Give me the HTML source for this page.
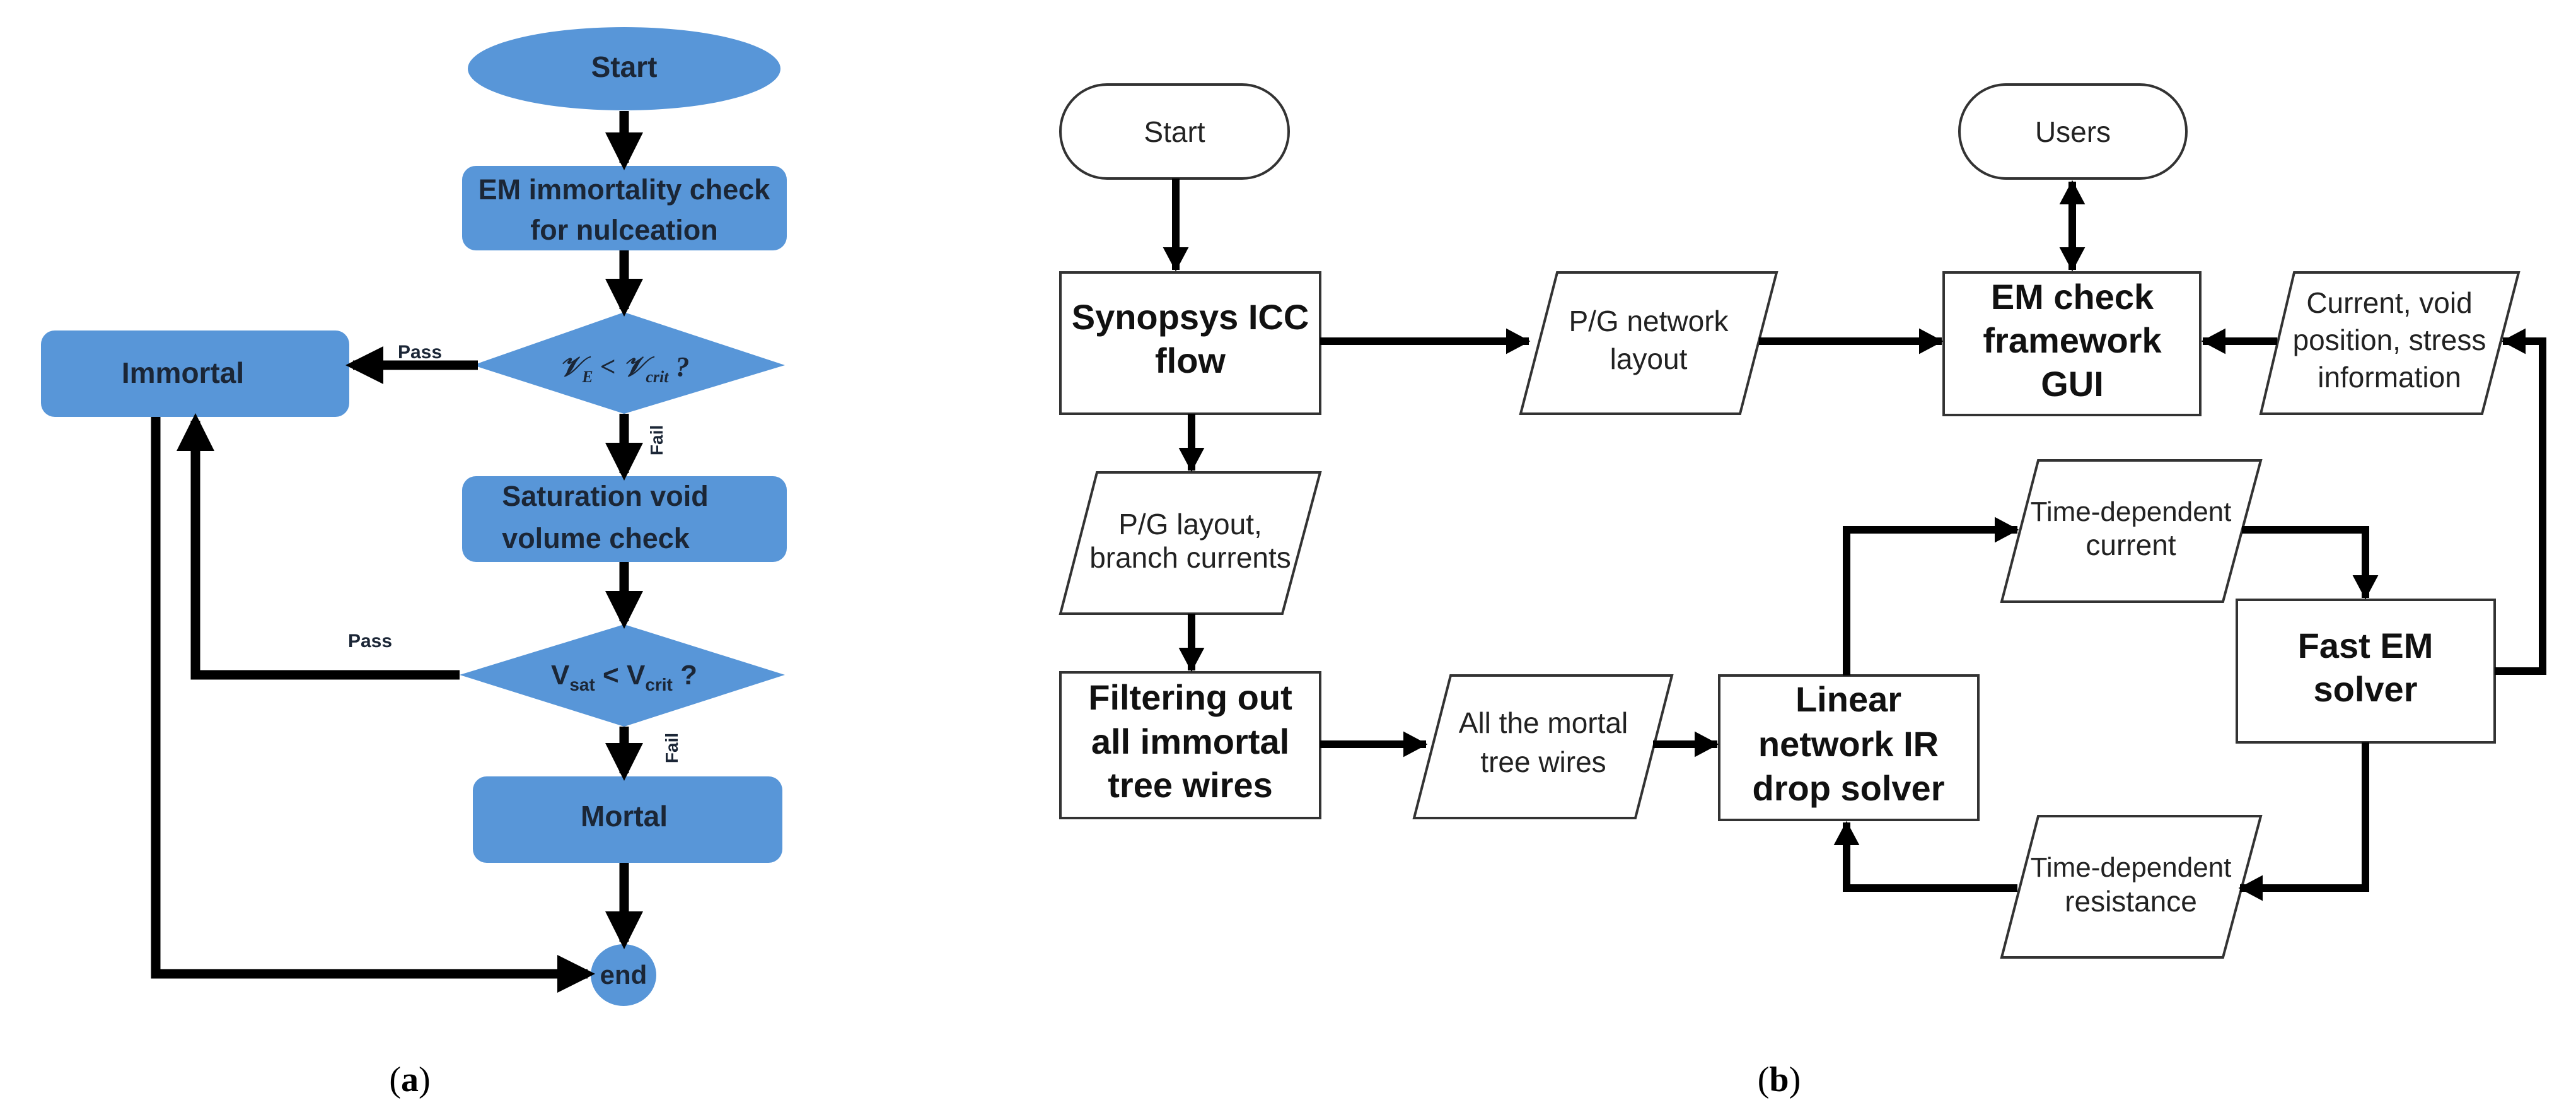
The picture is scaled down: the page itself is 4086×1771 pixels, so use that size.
<!DOCTYPE html>
<html><head><meta charset="utf-8"><style>
html,body{margin:0;padding:0;background:#fff;}
svg{display:block;}
.a{font-family:"Liberation Sans",sans-serif;font-weight:bold;fill:#1b2636;}
.b{font-family:"Liberation Sans",sans-serif;fill:#222;}
.bb{font-family:"Liberation Sans",sans-serif;font-weight:bold;fill:#111;}
</style></head><body>
<svg width="4086" height="1771" viewBox="0 0 4086 1771" xmlns="http://www.w3.org/2000/svg">
<defs>
<marker id="ha" markerWidth="4" markerHeight="4" refX="3.2" refY="2" orient="auto" markerUnits="strokeWidth"><path d="M0,0 L4,2 L0,4 z" fill="#000"/></marker>
<marker id="hb" markerWidth="3.2" markerHeight="3.4" refX="3" refY="1.7" orient="auto" markerUnits="strokeWidth"><path d="M0,0 L3.2,1.7 L0,3.4 z" fill="#000"/></marker>
<marker id="hbs" markerWidth="3.2" markerHeight="3.4" refX="0.2" refY="1.7" orient="auto" markerUnits="strokeWidth"><path d="M3.2,0 L0,1.7 L3.2,3.4 z" fill="#000"/></marker>
</defs>

<!-- Panel (a) -->
<g fill="#5896d8">
<ellipse cx="990" cy="109" rx="248" ry="66"/>
<rect x="733" y="263" width="515" height="134" rx="22"/>
<polygon points="750,579 990,495 1245,579 990,656"/>
<rect x="65" y="524" width="489" height="137" rx="22"/>
<rect x="733" y="755" width="515" height="136" rx="22"/>
<polygon points="729,1070 990,990 1245,1070 990,1152"/>
<rect x="750" y="1231" width="491" height="137" rx="22"/>
<ellipse cx="989" cy="1546" rx="52" ry="49"/>
</g>
<g stroke="#000" stroke-width="15" fill="none">
<line x1="990" y1="176" x2="990" y2="258" marker-end="url(#ha)"/>
<line x1="990" y1="397" x2="990" y2="490" marker-end="url(#ha)"/>
<line x1="758" y1="579" x2="560" y2="579" marker-end="url(#ha)"/>
<line x1="990" y1="656" x2="990" y2="750" marker-end="url(#ha)"/>
<line x1="990" y1="891" x2="990" y2="985" marker-end="url(#ha)"/>
<polyline points="729,1070 310,1070 310,667" marker-end="url(#ha)"/>
<line x1="990" y1="1152" x2="990" y2="1226" marker-end="url(#ha)"/>
<line x1="990" y1="1368" x2="990" y2="1493" marker-end="url(#ha)"/>
<polyline points="247,661 247,1544 932,1544" marker-end="url(#ha)"/>
</g>
<g class="a" text-anchor="middle">
<text x="990" y="122" font-size="46">Start</text>
<text x="990" y="316" font-size="45">EM immortality check</text>
<text x="990" y="380" font-size="45">for nulceation</text>
<text x="990" y="596" font-size="44" font-family="Liberation Serif" font-style="italic">𝒱<tspan font-size="26" dy="10">E</tspan><tspan dy="-10"> &lt; 𝒱</tspan><tspan font-size="26" dy="10">crit</tspan><tspan dy="-10"> ?</tspan></text>
<text x="290" y="607" font-size="46">Immortal</text>
<text x="666" y="568" font-size="30">Pass</text>
<text x="960" y="802" font-size="45">Saturation void</text>
<text x="945" y="869" font-size="45">volume check</text>
<text x="990" y="1085" font-size="44">V<tspan font-size="28" dy="10">sat</tspan><tspan dy="-10"> &lt; V</tspan><tspan font-size="28" dy="10">crit</tspan><tspan dy="-10"> ?</tspan></text>
<text x="587" y="1026" font-size="30">Pass</text>
<text x="990" y="1310" font-size="46">Mortal</text>
<text x="989" y="1560" font-size="42">end</text>
<text transform="translate(1051,698) rotate(-90)" font-size="28">Fail</text>
<text transform="translate(1075,1186) rotate(-90)" font-size="28">Fail</text>
</g>
<text x="650" y="1730" text-anchor="middle" font-family="Liberation Serif" font-size="56" fill="#000">(<tspan font-weight="bold">a</tspan>)</text>

<!-- Panel (b) -->
<g fill="#fff" stroke="#333" stroke-width="4">
<rect x="1682" y="134" width="362" height="149" rx="74"/>
<rect x="3108" y="134" width="360" height="149" rx="74"/>
<rect x="1682" y="432" width="412" height="224"/>
<polygon points="2470,432 2818,432 2760,656 2412,656"/>
<rect x="3083" y="432" width="407" height="226"/>
<polygon points="3639,432 3995,432 3937,656 3586,656"/>
<polygon points="1740,749 2094,749 2034,973 1682,973"/>
<rect x="1682" y="1066" width="412" height="231"/>
<polygon points="2301,1071 2652,1071 2594,1297 2243,1297"/>
<rect x="2727" y="1071" width="411" height="229"/>
<polygon points="3233,730 3586,730 3526,954 3175,954"/>
<rect x="3548" y="951" width="409" height="226"/>
<polygon points="3233,1294 3586,1294 3526,1518 3175,1518"/>
</g>
<g stroke="#000" stroke-width="12" fill="none">
<line x1="1865" y1="283" x2="1865" y2="428" marker-end="url(#hb)"/>
<line x1="2094" y1="541" x2="2425" y2="541" marker-end="url(#hb)"/>
<line x1="2790" y1="541" x2="3080" y2="541" marker-end="url(#hb)"/>
<line x1="3287" y1="288" x2="3287" y2="428" marker-start="url(#hbs)" marker-end="url(#hb)"/>
<line x1="3612" y1="541" x2="3494" y2="541" marker-end="url(#hb)"/>
<polyline points="3957,1064 4033,1064 4033,541 3970,541" marker-end="url(#hb)"/>
<line x1="1890" y1="656" x2="1890" y2="746" marker-end="url(#hb)"/>
<line x1="1890" y1="973" x2="1890" y2="1063" marker-end="url(#hb)"/>
<line x1="2094" y1="1180" x2="2262" y2="1180" marker-end="url(#hb)"/>
<line x1="2622" y1="1180" x2="2724" y2="1180" marker-end="url(#hb)"/>
<polyline points="2929,1071 2929,840 3200,840" marker-end="url(#hb)"/>
<polyline points="3556,840 3752,840 3752,948" marker-end="url(#hb)"/>
<polyline points="3752,1177 3752,1408 3553,1408" marker-end="url(#hb)"/>
<polyline points="3200,1408 2929,1408 2929,1304" marker-end="url(#hb)"/>
</g>
<g class="b" text-anchor="middle" font-size="46">
<text x="1863" y="225">Start</text>
<text x="3288" y="225">Users</text>
<text x="2615" y="525">P/G network</text>
<text x="2615" y="585">layout</text>
<text x="3790" y="496">Current, void</text>
<text x="3790" y="555">position, stress</text>
<text x="3790" y="614">information</text>
<text x="1888" y="847">P/G layout,</text>
<text x="1888" y="900">branch currents</text>
<text x="2448" y="1162">All the mortal</text>
<text x="2448" y="1224">tree wires</text>
<text x="3380" y="826" font-size="44">Time-dependent</text>
<text x="3380" y="880">current</text>
<text x="3380" y="1390" font-size="44">Time-dependent</text>
<text x="3380" y="1445">resistance</text>
</g>
<g class="bb" text-anchor="middle" font-size="56">
<text x="1888" y="522">Synopsys ICC</text>
<text x="1888" y="591">flow</text>
<text x="3287" y="490">EM check</text>
<text x="3287" y="559">framework</text>
<text x="3287" y="628">GUI</text>
<text x="1888" y="1125">Filtering out</text>
<text x="1888" y="1195">all immortal</text>
<text x="1888" y="1264">tree wires</text>
<text x="2932" y="1128">Linear</text>
<text x="2932" y="1199">network IR</text>
<text x="2932" y="1269">drop solver</text>
<text x="3752" y="1043">Fast EM</text>
<text x="3752" y="1112">solver</text>
</g>
<text x="2822" y="1730" text-anchor="middle" font-family="Liberation Serif" font-size="56" fill="#000">(<tspan font-weight="bold">b</tspan>)</text>
</svg>
</body></html>
